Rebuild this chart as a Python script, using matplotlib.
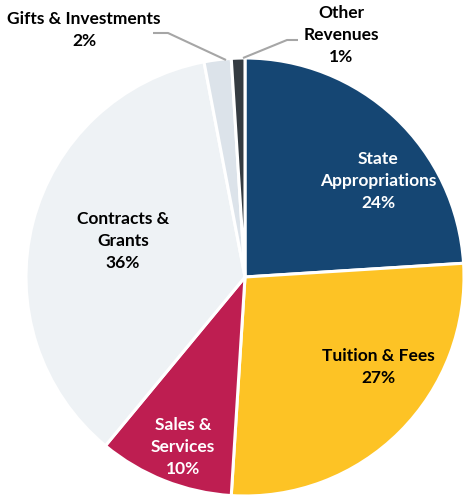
import matplotlib
matplotlib.use("Agg")
import matplotlib.pyplot as plt

plt.rcParams['font.family'] = ['Lato', 'DejaVu Sans']

# Revenue sources (percent of total)
categories = ["State\nAppropriations", "Tuition & Fees", "Sales &\nServices",
              "Contracts &\nGrants", "Gifts & Investments", "Other\nRevenues"]
shares = [24, 27, 10, 36, 2, 1]
colors = ["#154673", "#FDC325", "#BE1E51", "#EEF2F5", "#DCE3EA", "#343B41"]
text_colors = ["white", "black", "white", "black", "black", "black"]

W, H = 463, 501
fig = plt.figure(figsize=(W / 100, H / 100), dpi=100)
ax = fig.add_axes([0, 0, 1, 1])

cx, cy, r = 245, H - 277, 219
wedges, _ = ax.pie(shares, colors=colors, startangle=90, counterclock=False,
                   center=(cx, cy), radius=r,
                   wedgeprops=dict(edgecolor="white", linewidth=2.2))
ax.set_xlim(0, W)
ax.set_ylim(0, H)
ax.set_aspect("equal")
ax.axis("off")

labels = [f"{c}\n{s}%" for c, s in zip(categories, shares)]
fs = 12.5

# label positions in pixel coordinates (x, y from top)
inner_pos = {0: (378, 181), 1: (378, 367), 2: (183, 447), 3: (123, 241)}
for i, (x, y) in inner_pos.items():
    ax.text(x, H - y, labels[i], ha="center", va="center", fontsize=fs,
            fontweight="bold", color=text_colors[i], linespacing=1.45)

# outside labels with leader lines
ax.text(84, H - 30, labels[4], ha="center", va="center", fontsize=fs,
        fontweight="bold", color="black", linespacing=1.45)
ax.text(341, H - 35, labels[5], ha="center", va="center", fontsize=fs,
        fontweight="bold", color="black", linespacing=1.45)

lc = "#A6A6A6"
ax.plot([153, 168, 226], [H - 33, H - 33, H - 60], color=lc, lw=1.5,
        solid_capstyle="butt")
ax.plot([243, 287, 298], [H - 58, H - 40, H - 40], color=lc, lw=1.5,
        solid_capstyle="butt")

fig.savefig("out.png", dpi=100, facecolor="white")
